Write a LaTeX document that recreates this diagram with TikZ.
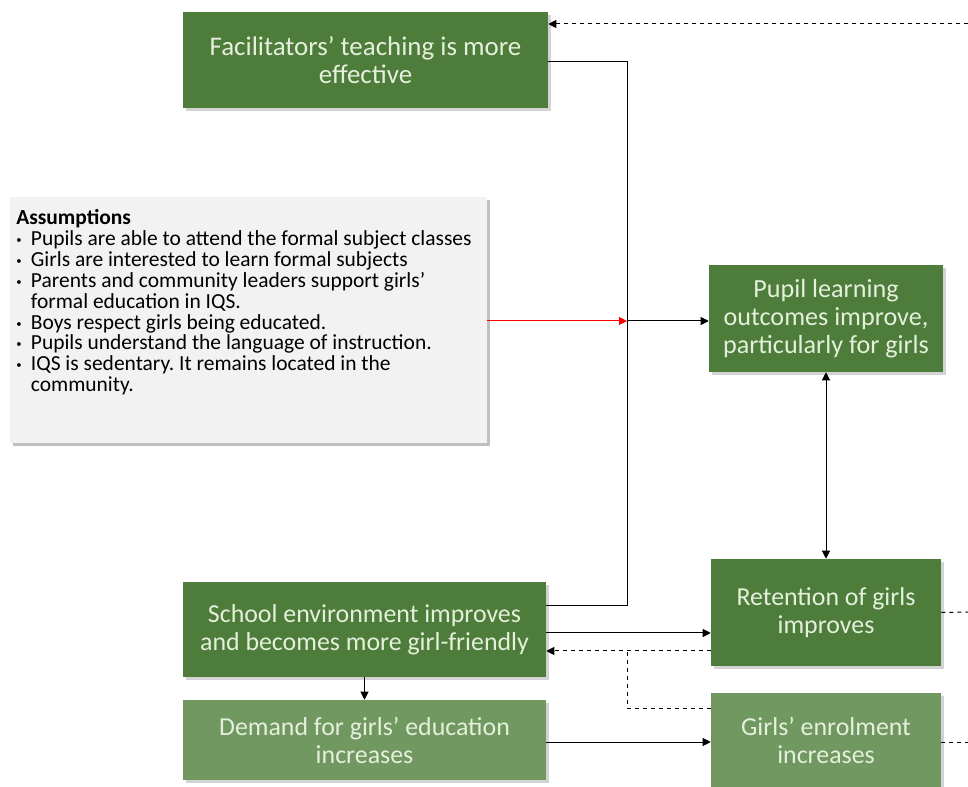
\documentclass[tikz,border=0pt]{standalone}
\usepackage{fontspec}
\setmainfont{Carlito}
\usepackage{tikz}
\usepackage{xcolor}
\usetikzlibrary{arrows.meta,shadows}

\definecolor{darkgreen}{RGB}{78,124,58}
\definecolor{lightgreen}{RGB}{112,152,96}
\definecolor{palegreen}{RGB}{228,240,220}
\definecolor{assumgray}{RGB}{242,242,242}

\newcommand{\assumbullet}{\makebox[11pt][l]{\raisebox{1.5pt}{\fontsize{8}{8}\selectfont\textbullet}}}

\tikzset{
  goalbox/.style={fill=darkgreen, text=palegreen, align=center,
    font=\fontsize{19.4}{21}\selectfont, inner sep=2pt,
    drop shadow={opacity=0.35, shadow xshift=2pt, shadow yshift=-2pt}},
  softbox/.style={goalbox, fill=lightgreen},
  notebox/.style={fill=assumgray, inner sep=0pt,
    drop shadow={opacity=0.5, shadow xshift=2pt, shadow yshift=-2pt}},
  notetext/.style={align=left, anchor=north west, inner sep=0pt,
    font=\fontsize{16.1}{15.7}\selectfont},
  link/.style={line width=0.75pt, -{Triangle[length=6pt,width=6pt]}},
  feedback/.style={link, dashed},
}

\begin{document}
\frenchspacing
\begin{tikzpicture}[x=0.75pt, y=-0.75pt]
\useasboundingbox (0,0) rectangle (968,787);

\node [goalbox, font=\fontsize{20.2}{21}\selectfont, minimum width=273.75pt, minimum height=72pt] (teach) at (365.5,60)
  {Facilitators’ teaching is more\\effective};

\node [notebox, minimum width=357.75pt, minimum height=184.5pt] (assum) at (248.5,320) {};
\node [notetext] (assumtext) at (16,209) {%
\textbf{Assumptions}\\
\assumbullet Pupils are able to attend the formal subject classes\\
\assumbullet Girls are interested to learn formal subjects\\
\assumbullet Parents and community leaders support girls’\\
\hspace*{11pt}formal education in IQS.\\
\assumbullet Boys respect girls being educated.\\
\assumbullet Pupils understand the language of instruction.\\
\assumbullet IQS is sedentary. It remains located in the\\
\hspace*{11pt}community.};

\node [goalbox, font=\fontsize{19.6}{21}\selectfont, minimum width=175.5pt, minimum height=80.25pt] (learn) at (826,318.5)
  {Pupil learning\\outcomes improve,\\particularly for girls};
\node [goalbox, minimum width=172.5pt, minimum height=80.25pt] (retain) at (826,612.5)
  {Retention of girls\\improves};
\node [goalbox, minimum width=272.25pt, minimum height=71.25pt] (school) at (364.5,629.5)
  {School environment improves\\and becomes more girl-friendly};
\node [softbox, minimum width=272.25pt, minimum height=60pt] (demand) at (364.5,740)
  {Demand for girls’ education\\increases};
\node [softbox, minimum width=172.5pt, minimum height=70.5pt] (enrol) at (826,740)
  {Girls’ enrolment\\increases};

\coordinate (hub) at (627,321);
\coordinate (loop) at (627,651);
\coordinate (edgetop) at (968,24);
\coordinate (edgeret) at (968,612);
\coordinate (edgeenr) at (968,742);

% teaching and school environment feed the hub
\draw [line width=0.75pt] (teach.east |- 0,62) -| (hub);
\draw [line width=0.75pt] (school.east |- 0,606) -| (hub);
\draw [link, red] (assum.east |- hub) -- (hub);
\draw [link] (hub) -- (learn.west |- hub);
\draw [line width=0.75pt, {Triangle[length=6pt,width=6pt]}-{Triangle[length=6pt,width=6pt]}] (learn) -- (retain);

\draw [link] (school.east |- 0,633) -- (retain.west |- 0,633);
\draw [feedback] (retain.west |- loop) -- (school.east |- loop);
\draw [line width=0.75pt, dashed] (enrol.west |- 0,708) -| (loop);
\draw [link] (school) -- (demand);
\draw [link] (demand.east |- 0,742) -- (enrol.west |- 0,742);

% links leaving the picture on the right
\draw [feedback] (edgetop) -- (teach.east |- edgetop);
\draw [line width=0.75pt, dashed] (retain.east) -- (edgeret);
\draw [line width=0.75pt, dashed] (enrol.east |- edgeenr) -- (edgeenr);
\end{tikzpicture}
\end{document}
